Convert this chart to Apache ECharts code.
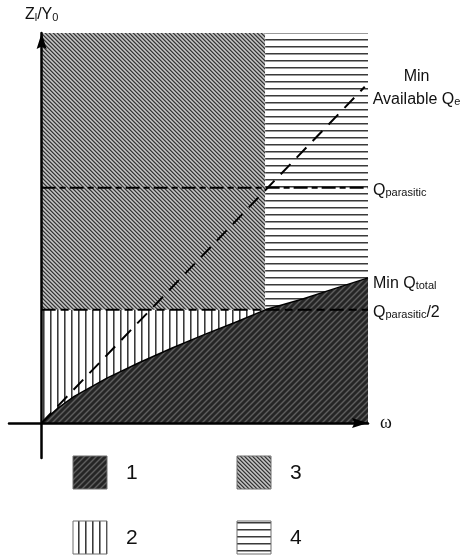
<!DOCTYPE html>
<html><head><meta charset="utf-8">
<script src="https://cdn.jsdelivr.net/npm/echarts@6/dist/echarts.min.js"></script>
<style>html,body{margin:0;padding:0;background:#fff}#c{width:460px;height:558px}</style>
</head><body><div id="c"></div>
<script>
// Frequency samples and the minimum total Q boundary
const omega     = [0, 0.5, 1, 2, 3, 4, 5, 6, 6.85, 8, 9, 10];
const minQtotal = [0, 0.38, 0.68, 1.15, 1.55, 1.92, 2.27, 2.6, 2.9, 3.18, 3.45, 3.72];
// Minimum available external Q: straight line from the origin
const availOmega = [0, 9.9];
const availQe    = [0, 8.62];
// Horizontal reference levels
const qParasitic     = 6.03;
const qParasiticHalf = 2.9;
// Frequency where min Q_total reaches Q_parasitic/2
const omegaSplit = 6.85;
const omegaMax = 10;
const ratioMax = 10;
const regionNames = ['1', '2', '3', '4'];

const mod = (a, n) => ((a % n) + n) % n;
function pixelPattern(w, h, colorAt) {
  const cv = document.createElement('canvas');
  cv.width = w; cv.height = h;
  const ctx = cv.getContext('2d');
  for (let y = 0; y < h; y++) for (let x = 0; x < w; x++) {
    ctx.fillStyle = colorAt(x, y);
    ctx.fillRect(x, y, 1, 1);
  }
  return { image: cv, repeat: 'repeat' };
}
// Hatch fills for the four regions
const fills = [
  pixelPattern(6, 6, (x, y) => ['#5e5e5e', '#414141', '#262626', '#242424', '#262626', '#414141'][mod(x + y, 6)]),
  pixelPattern(7, 1, (x) => x === 1 ? '#3a3a3a' : x === 2 ? '#8e8e8e' : '#ffffff'),
  pixelPattern(4, 4, (x, y) => ['#363636', '#787878', '#c4c4c4', '#a2a2a2'][mod(x - y, 4)]),
  pixelPattern(1, 7, (x, y) => y === 4 ? '#3a3a3a' : y === 5 ? '#9a9a9a' : '#ffffff')
];

const curve = omega.map((w, i) => [w, minQtotal[i]]);
const regions = [
  [[0, 0]].concat(curve, [[omegaMax, 0]]),
  [[0, qParasiticHalf], [omegaSplit, qParasiticHalf]].concat(curve.filter(p => p[0] <= omegaSplit).reverse()),
  [[0, ratioMax], [omegaSplit, ratioMax], [omegaSplit, qParasiticHalf], [0, qParasiticHalf]],
  [[omegaSplit, ratioMax], [omegaMax, ratioMax]].concat(curve.filter(p => p[0] >= omegaSplit).reverse())
];

const regionSeries = regions.map((pts, k) => ({
  type: 'custom', name: regionNames[k], coordinateSystem: 'cartesian2d',
  silent: true, z: 1, clip: false,
  data: [[0, 0]],
  renderItem: (params, api) => ({
    type: 'polygon',
    shape: { points: pts.map(p => api.coord(p)) },
    style: { fill: fills[k], stroke: null }
  })
}));

const FONT = 'Liberation Sans, Arial, sans-serif';
const rich = {
  c: { fontSize: 16, fontFamily: FONT, color: '#111', align: 'center', lineHeight: 21 },
  m: { fontSize: 16, fontFamily: FONT, color: '#111', lineHeight: 21, verticalAlign: 'bottom' },
  s: { fontSize: 11, fontFamily: FONT, color: '#111', lineHeight: 8, verticalAlign: 'bottom' }
};
function lineSeries(data, style, label, labelOpts) {
  return {
    type: 'line', data, symbol: 'none', silent: true, z: 3, clip: false,
    lineStyle: style,
    endLabel: Object.assign({ show: true, formatter: label, distance: 5, rich }, labelOpts || {})
  };
}

const series = regionSeries.concat([
  lineSeries([[0, qParasitic], [omegaMax, qParasitic]],
    { color: '#000', width: 2, type: [14, 4, 6, 4] }, '{m|Q}{s|parasitic}'),
  lineSeries([[0, qParasiticHalf], [omegaMax, qParasiticHalf]],
    { color: '#000', width: 2, type: [14, 5, 8, 5] }, '{m|Q}{s|parasitic}{m|/2}'),
  lineSeries(availOmega.map((w, i) => [w, availQe[i]]),
    { color: '#000', width: 2, type: [14, 9] }, '{c|Min}\n{m|Available Q}{s|e}', { distance: 8 }),
  lineSeries(curve, { color: '#000', width: 1.5 }, '{m|Min Q}{s|total}', { offset: [0, 3] })
]);

function legendItem(k, x, y) {
  return [
    { type: 'rect', shape: { x: x, y: y, width: 34, height: 33 },
      style: { fill: fills[k], stroke: '#6e6e6e', lineWidth: 1 } },
    { type: 'text', x: x + 53, y: y + 17,
      style: { text: regionNames[k], font: '21px ' + FONT, fill: '#111', verticalAlign: 'middle' } }
  ];
}

// Solid notched arrow head for both axes
const ARROW = 'path://M5,0L10,16L5,13.5L0,16Z';
const axisLine = { onZero: true, symbol: ['none', ARROW], symbolSize: [11, 16], symbolOffset: [0, -8],
  lineStyle: { color: '#000', width: 2.5 } };

const chart = echarts.init(document.getElementById('c'), null, { renderer: 'canvas' });
chart.setOption({
  animation: false,
  backgroundColor: '#fff',
  grid: { left: 9, right: 92, top: 33, bottom: 100 },
  xAxis: {
    type: 'value', min: -1, max: omegaMax, z: 10,
    name: 'ω', nameLocation: 'end', nameGap: 12,
    nameTextStyle: { fontFamily: 'Liberation Serif, serif', fontSize: 18, color: '#111' },
    axisLine,
    axisTick: { show: false }, axisLabel: { show: false }, splitLine: { show: false }
  },
  yAxis: {
    type: 'value', min: -0.9, max: ratioMax, z: 10,
    name: '{m|Z}{s|l}{m|/Y}{s|0}', nameLocation: 'end', nameGap: 10,
    nameTextStyle: { rich },
    axisLine,
    axisTick: { show: false }, axisLabel: { show: false }, splitLine: { show: false }
  },
  series,
  graphic: [].concat(legendItem(0, 73, 456), legendItem(2, 237, 456), legendItem(1, 73, 521), legendItem(3, 237, 521))
});
</script></body></html>
